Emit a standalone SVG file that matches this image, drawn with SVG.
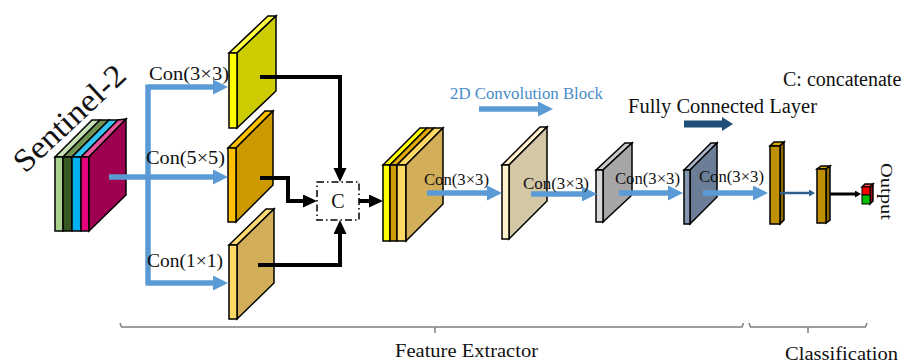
<svg xmlns="http://www.w3.org/2000/svg" width="905" height="363" viewBox="0 0 905 363">
  <defs>
    <style>
      .t { font-family: "Liberation Serif", "Times New Roman", serif; fill: #111; }
      .blk { stroke: #000; stroke-width: 1.5; stroke-linejoin: miter; }
      .blue { fill: none; stroke: #5b9bd5; stroke-width: 5.5; }
      .blk-arrow { fill: none; stroke: #000; stroke-width: 4; }
      .brace { fill: none; stroke: #7f7f7f; stroke-width: 1.5; }
    </style>
    <marker id="ahBlue" markerUnits="userSpaceOnUse" markerWidth="16" markerHeight="16" refX="2" refY="7.5" orient="auto">
      <path d="M0,0 L15,7.5 L0,15 z" fill="#5b9bd5"/>
    </marker>
    <marker id="ahBlack" markerUnits="userSpaceOnUse" markerWidth="16" markerHeight="14" refX="2" refY="6.5" orient="auto">
      <path d="M0,0 L14,6.5 L0,13 z" fill="#000"/>
    </marker>
    <marker id="ahNavy" markerUnits="userSpaceOnUse" markerWidth="12" markerHeight="15" refX="1" refY="7" orient="auto">
      <path d="M0,0 L11,7 L0,14 z" fill="#1f4e79"/>
    </marker>
    <marker id="ahNavySmall" markerUnits="userSpaceOnUse" markerWidth="8" markerHeight="8" refX="1" refY="3.5" orient="auto">
      <path d="M0,0 L6,3.5 L0,7 z" fill="#2e6190"/>
    </marker>
    <marker id="ahBlackSmall" markerUnits="userSpaceOnUse" markerWidth="8" markerHeight="8" refX="1" refY="3.5" orient="auto">
      <path d="M0,0 L6,3.5 L0,7 z" fill="#000"/>
    </marker>
  </defs>

  <rect width="905" height="363" fill="#fff"/>

  <!-- Input image stack -->
  <g id="sentinel2">
    <text class="t" font-size="32" transform="translate(25,174) rotate(-43)" textLength="141" lengthAdjust="spacingAndGlyphs">Sentinel-2</text>
    <polygon class="blk" fill="#c5e0b4" points="55,157 63,157 100,120 92,120"/>
    <rect class="blk" fill="#a9d18e" x="55" y="157" width="8" height="74"/>
    <polygon class="blk" fill="#6f8f4f" points="63,157 72,157 109,120 100,120"/>
    <rect class="blk" fill="#385723" x="63" y="157" width="9" height="74"/>
    <polygon class="blk" fill="#33c4f5" points="72,157 81,157 118,120 109,120"/>
    <rect class="blk" fill="#00b0f0" x="72" y="157" width="9" height="74"/>
    <polygon class="blk" fill="#e8559c" points="81,157 89,157 126,119 118,120"/>
    <rect class="blk" fill="#e6007e" x="81" y="157" width="8" height="74"/>
    <polygon class="blk" fill="#9e0050" points="89,157 126,119 126,195 89,231"/>
  </g>

  <!-- Inception branches -->
  <g id="branch3x3">
    <polygon class="blk" fill="#ffff40" points="229,53 237,53 276,16 268,16"/>
    <polygon class="blk" fill="#cccc00" points="237,53 276,16 276,91 237,128"/>
    <rect class="blk" fill="#ffff00" x="229" y="53" width="8" height="75"/>
  </g>
  <g id="branch5x5">
    <polygon class="blk" fill="#ffc000" points="228,148 236,148 273,111 265,111"/>
    <polygon class="blk" fill="#cc9a00" points="236,148 273,111 273,185 236,222"/>
    <rect class="blk" fill="#ffc000" x="228" y="148" width="8" height="74"/>
  </g>
  <g id="branch1x1">
    <polygon class="blk" fill="#ffdb70" points="229,245 237,245 274,209 266,209"/>
    <polygon class="blk" fill="#d1ae57" points="237,245 274,209 274,283 237,319"/>
    <rect class="blk" fill="#ffd966" x="229" y="245" width="8" height="74"/>
  </g>

  <!-- Concatenation -->
  <g id="concat">
    <rect x="317" y="182" width="42" height="38" fill="#fff" stroke="#000" stroke-width="1.5" stroke-dasharray="7,3,1.5,3"/>
    <text class="t" font-size="20" x="338" y="208" text-anchor="middle">C</text>
  </g>

  <!-- Concatenated feature maps -->
  <g id="stacked">
    <polygon class="blk" fill="#ffff00" points="383,165 390,165 427,128 420,128"/>
    <rect class="blk" fill="#ffff00" x="383" y="165" width="7" height="76"/>
    <polygon class="blk" fill="#e0a800" points="390,165 397,165 434,128 427,128"/>
    <rect class="blk" fill="#cc9a00" x="390" y="165" width="7" height="76"/>
    <polygon class="blk" fill="#ffd966" points="397,165 406,165 443,128 434,128"/>
    <rect class="blk" fill="#ffd966" x="397" y="165" width="9" height="76"/>
    <polygon class="blk" fill="#d1ae57" points="406,165 443,128 443,204 406,241"/>
  </g>

  <!-- 2D convolution blocks -->
  <g id="conv1">
    <polygon class="blk" fill="#fff2cc" points="502,165 509,165 547,127 540,127"/>
    <polygon class="blk" fill="#d3c7a6" points="509,165 547,127 547,201 509,239"/>
    <rect class="blk" fill="#fff2cc" x="502" y="165" width="7" height="74"/>
  </g>
  <g id="conv2">
    <polygon class="blk" fill="#c9c9c9" points="596,170 603,170 632,143 625,143"/>
    <polygon class="blk" fill="#a6a6a6" points="603,170 632,143 632,195 603,222"/>
    <rect class="blk" fill="#d9d9d9" x="596" y="170" width="7" height="52"/>
  </g>
  <g id="conv3">
    <polygon class="blk" fill="#adb9ca" points="684,170 690,170 717,143 711,143"/>
    <polygon class="blk" fill="#6b7d97" points="690,170 717,143 717,197 690,224"/>
    <rect class="blk" fill="#8497b0" x="684" y="170" width="6" height="54"/>
  </g>

  <!-- Fully connected layers -->
  <g id="fc1">
    <polygon class="blk" fill="#d9a800" points="770,146 780,146 784,142 774,142"/>
    <polygon class="blk" fill="#8f6c00" points="780,146 784,142 784,220 780,224"/>
    <rect class="blk" fill="#bf9000" x="770" y="146" width="10" height="78"/>
  </g>
  <g id="fc2">
    <polygon class="blk" fill="#d9a800" points="817,169 826,169 830,166 821,166"/>
    <polygon class="blk" fill="#8f6c00" points="826,169 830,166 830,220 826,223"/>
    <rect class="blk" fill="#bf9000" x="817" y="169" width="9" height="54"/>
  </g>

  <!-- Output -->
  <g id="output">
    <polygon class="blk" fill="#ff5050" points="862,187 870,187 873,184 865,184"/>
    <polygon class="blk" fill="#a00000" points="870,187 873,184 873,201 870,204"/>
    <rect x="862" y="187" width="8" height="8" fill="#ff0000" stroke="#000" stroke-width="1"/>
    <rect x="862" y="195" width="8" height="9" fill="#00c000" stroke="#000" stroke-width="1"/>
    <text class="t" font-size="17" transform="translate(881,163) rotate(90)" textLength="57" lengthAdjust="spacingAndGlyphs">Output</text>
  </g>

  <!-- Connectors -->
  <g id="connectors">
    <path class="blue" d="M148,84.5 V285.5"/>
    <path class="blue" d="M109,177 H215" marker-end="url(#ahBlue)"/>
    <path class="blue" d="M148,87 H215" marker-end="url(#ahBlue)"/>
    <path class="blue" d="M148,283 H215" marker-end="url(#ahBlue)"/>

    <path class="blk-arrow" d="M260,77 H340 V170" marker-end="url(#ahBlack)"/>
    <path class="blk-arrow" d="M260,178 H288 V201 H305" marker-end="url(#ahBlack)"/>
    <path class="blk-arrow" d="M258,265 H340 V232" marker-end="url(#ahBlack)"/>
    <path class="blk-arrow" d="M359,201 H371" marker-end="url(#ahBlack)"/>

    <path class="blue" d="M427,193 H489" marker-end="url(#ahBlue)" stroke-width="6"/>
    <path class="blue" d="M531,194 H584" marker-end="url(#ahBlue)" stroke-width="6"/>
    <path class="blue" d="M619,193 H670" marker-end="url(#ahBlue)" stroke-width="6"/>
    <path class="blue" d="M703,193 H755" marker-end="url(#ahBlue)" stroke-width="6"/>

    <path d="M780,193 H810" fill="none" stroke="#2e6190" stroke-width="2.5" marker-end="url(#ahNavySmall)"/>
    <path d="M830,194 H856" fill="none" stroke="#000" stroke-width="3" marker-end="url(#ahBlackSmall)"/>
  </g>

  <!-- Labels -->
  <g id="labels">
    <text class="t" font-size="18" x="149" y="80" textLength="80" lengthAdjust="spacingAndGlyphs">Con(3×3)</text>
    <text class="t" font-size="18" x="146" y="164" textLength="79" lengthAdjust="spacingAndGlyphs">Con(5×5)</text>
    <text class="t" font-size="18" x="147" y="267" textLength="76" lengthAdjust="spacingAndGlyphs">Con(1×1)</text>

    <text class="t" font-size="17" x="424" y="185" textLength="65" lengthAdjust="spacingAndGlyphs">Con(3×3)</text>
    <text class="t" font-size="17" x="523" y="189" textLength="66" lengthAdjust="spacingAndGlyphs">Con(3×3)</text>
    <text class="t" font-size="17" x="615" y="184" textLength="65" lengthAdjust="spacingAndGlyphs">Con(3×3)</text>
    <text class="t" font-size="17" x="699" y="182" textLength="65" lengthAdjust="spacingAndGlyphs">Con(3×3)</text>

    <text class="t" font-size="16" x="450" y="99" textLength="153" lengthAdjust="spacingAndGlyphs" style="fill:#4a8bcb">2D Convolution Block</text>
    <path class="blue" d="M479,109 H540" marker-end="url(#ahBlue)" stroke-width="6"/>

    <text class="t" font-size="20" x="628" y="113" textLength="189" lengthAdjust="spacingAndGlyphs">Fully Connected Layer</text>
    <path d="M684,124 H723" fill="none" stroke="#1f4e79" stroke-width="7" marker-end="url(#ahNavy)"/>

    <text class="t" font-size="20" x="783" y="86">C: concatenate</text>

    <path class="brace" d="M120,323 L121.5,327 H742 L743.5,323 M435,327 V333"/>
    <path class="brace" d="M749,323 L750.5,327 H865.5 L867,323 M808,327 V333"/>
    <text class="t" font-size="19" x="395" y="357" textLength="143" lengthAdjust="spacingAndGlyphs">Feature Extractor</text>
    <text class="t" font-size="19" x="785" y="360" textLength="113" lengthAdjust="spacingAndGlyphs">Classification</text>
  </g>
</svg>
